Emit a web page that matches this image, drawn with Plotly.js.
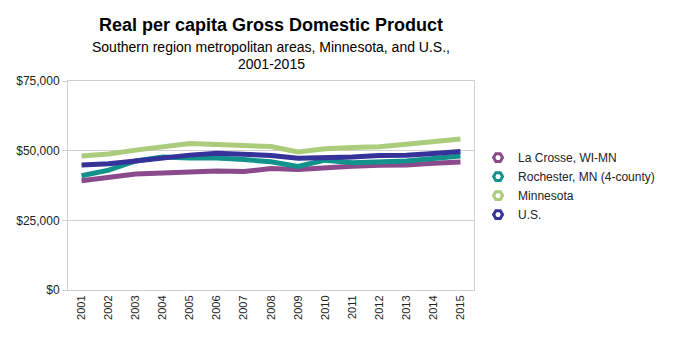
<!DOCTYPE html>
<html>
<head>
<meta charset="utf-8">
<script src="https://cdn.plot.ly/plotly-3.0.1.min.js"></script>
<style>html,body{margin:0;padding:0;background:#fff;}#chart{width:680px;height:360px;}</style>
</head>
<body>
<div id="chart"></div>
<script>
const years = ["2001","2002","2003","2004","2005","2006","2007","2008","2009","2010","2011","2012","2013","2014","2015"];
const laCrosse   = [39200,40400,41600,42000,42300,42700,42500,43600,43200,44000,44400,44800,44900,45500,45900];
const rochester  = [41000,43000,46300,47700,47400,47400,46800,46000,44300,46600,45700,46100,46300,47200,48100];
const minnesota  = [48100,48800,50200,51400,52600,52200,51700,51500,49500,50700,51100,51400,52300,53300,54200];
const us         = [44900,45300,46300,47400,48400,49100,48900,48300,47300,47400,47700,48300,48400,49000,49700];
const seriesNames = ["La Crosse, WI-MN","Rochester, MN (4-county)","Minnesota","U.S."];
const seriesColors = ["#8a4a8c","#13918c","#abcd7b","#35329a"];
const seriesData = [laCrosse, rochester, minnesota, us];

const traces = [];
seriesData.forEach((vals, i) => {
  traces.push({
    x: years, y: vals, type: 'scatter', mode: 'lines',
    line: {color: seriesColors[i], width: 5},
    showlegend: false, hoverinfo: 'skip'
  });
});
seriesData.forEach((vals, i) => {
  traces.push({
    x: [null], y: [null], type: 'scatter', mode: 'markers',
    name: seriesNames[i],
    marker: {symbol: 'hexagon2-open', size: 9, color: seriesColors[i], line: {width: 3, color: seriesColors[i]}},
    showlegend: true
  });
});

const layout = {
  width: 680, height: 360,
  margin: {l: 68, r: 206, t: 81, b: 70},
  paper_bgcolor: '#fff', plot_bgcolor: '#fff',
  font: {family: 'Liberation Sans, Arial, sans-serif', color: '#222'},
  annotations: [
    {text: '<b>Real per capita Gross Domestic Product</b>', xref: 'paper', yref: 'paper',
     x: 0.5, y: (290 - 25) / 209, xanchor: 'center', yanchor: 'middle', showarrow: false,
     font: {size: 18, color: '#000'}},
    {text: 'Southern region metropolitan areas, Minnesota, and U.S.,', xref: 'paper', yref: 'paper',
     x: 0.5, y: (290 - 47) / 209, xanchor: 'center', yanchor: 'middle', showarrow: false,
     font: {size: 14, color: '#000'}},
    {text: '2001-2015', xref: 'paper', yref: 'paper',
     x: 0.5, y: (290 - 64) / 209, xanchor: 'center', yanchor: 'middle', showarrow: false,
     font: {size: 14, color: '#000'}}
  ],
  xaxis: {
    type: 'category', range: [-0.5, 14.5],
    tickangle: -90, tickfont: {size: 11, color: '#222'},
    showgrid: false, zeroline: false,
    showline: true, linecolor: '#d0d0d0', linewidth: 1, mirror: true,
    ticks: '', fixedrange: true
  },
  yaxis: {
    range: [0, 75000], tickvals: [0, 25000, 50000, 75000],
    ticktext: ['$0', '$25,000', '$50,000', '$75,000'],
    tickfont: {size: 12, color: '#222'},
    showgrid: true, gridcolor: '#d0d0d0', gridwidth: 1,
    zeroline: false,
    showline: true, linecolor: '#d0d0d0', linewidth: 1, mirror: true,
    ticks: 'outside', ticklen: 5, tickcolor: '#d0d0d0',
    fixedrange: true
  },
  legend: {
    x: 1.01, xanchor: 'left', y: 0.703, yanchor: 'top',
    font: {size: 12, color: '#222'},
    itemwidth: 30, tracegroupgap: 0,
    bgcolor: 'rgba(0,0,0,0)'
  }
};

Plotly.newPlot('chart', traces, layout, {displayModeBar: false, staticPlot: true});
</script>
</body>
</html>
